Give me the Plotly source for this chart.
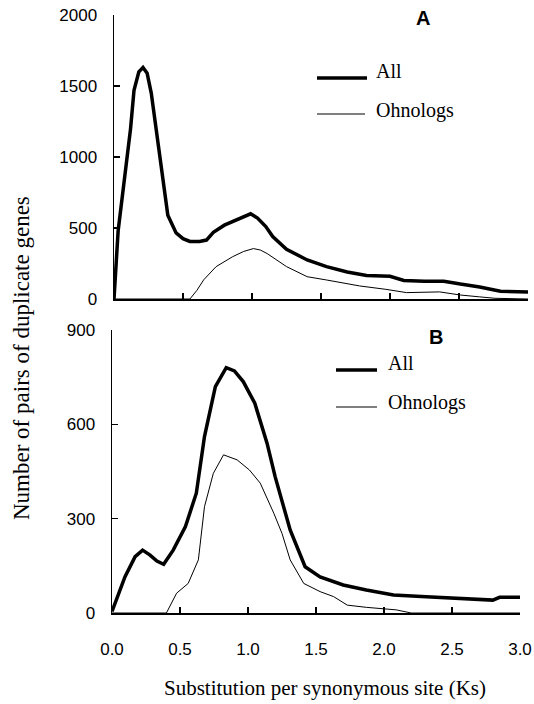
import plotly.graph_objects as go

# ---------------- data ----------------
ks_a_all = [0.00, 0.01, 0.03, 0.06, 0.09, 0.12, 0.145, 0.18, 0.21, 0.24, 0.27, 0.31, 0.35,
            0.39, 0.45, 0.50, 0.55, 0.62, 0.67, 0.72, 0.80, 0.88, 0.95, 0.99, 1.04, 1.10,
            1.15, 1.25, 1.40, 1.54, 1.69, 1.83, 2.00, 2.10, 2.25, 2.39, 2.51, 2.65, 2.80, 3.00]
a_all = [0, 150, 480, 720, 940, 1200, 1470, 1600, 1630, 1590, 1450, 1170, 850,
         590, 465, 425, 405, 405, 415, 470, 520, 555, 585, 600, 570, 510,
         440, 350, 275, 228, 190, 165, 160, 130, 125, 125, 105, 85, 55, 50]

ks_a_ohno = [0.00, 0.55, 0.60, 0.65, 0.74, 0.86, 0.94, 1.01, 1.06, 1.11, 1.25, 1.40, 1.54,
             1.78, 1.97, 2.12, 2.36, 2.51, 2.65, 2.76, 3.00]
a_ohno = [0, 0, 60, 135, 228, 298, 335, 355, 345, 320, 228, 157, 134,
          92, 68, 45, 50, 28, 15, 5, 0]

ks_b_all = [0.00, 0.05, 0.095, 0.17, 0.225, 0.28, 0.33, 0.38, 0.45, 0.54, 0.62, 0.68, 0.76,
            0.84, 0.90, 0.965, 1.05, 1.14, 1.20, 1.31, 1.42, 1.53, 1.70, 1.87, 2.07, 2.31,
            2.56, 2.80, 2.85, 3.00]
b_all = [5, 60, 115, 179, 200, 184, 165, 155, 200, 275, 381, 561, 720,
         780, 770, 736, 667, 540, 433, 264, 147, 115, 89, 73, 57, 52,
         47, 41, 50, 50]

ks_b_ohno = [0.00, 0.40, 0.475, 0.56, 0.635, 0.68, 0.745, 0.82, 0.92, 1.01, 1.09, 1.19, 1.25,
             1.31, 1.41, 1.53, 1.63, 1.73, 1.87, 2.09, 2.20, 3.00]
b_ohno = [0, 0, 63, 94, 169, 338, 444, 503, 487, 455, 413, 317, 253,
          169, 94, 68, 52, 25, 18, 10, 0, 0]

x_ticks = [0, 0.5, 1.0, 1.5, 2.0, 2.5, 3.0]
x_ticktext = ["0.0", "0.5", "1.0", "1.5", "2.0", "2.5", "3.0"]
a_yticks = [0, 500, 1000, 1500, 2000]
b_yticks = [0, 300, 600, 900]
series_names = ["All", "Ohnologs"]
panel_labels = ["A", "B"]
x_title = "Substitution per synonymous site (Ks)"
y_title = "Number of pairs of duplicate genes"

# ---------------- layout helpers (window pixels) ----------------
W, H = 534, 704
def px(x):
    return x / W
def py(y):
    return 1 - y / H

SANS = "Liberation Sans"
SERIF = "Liberation Serif"

fig = go.Figure()
thick = dict(color="black", width=3.5)
thin = dict(color="black", width=1)

fig.add_trace(go.Scatter(x=ks_a_all, y=a_all, mode="lines", line=thick, xaxis="x", yaxis="y",
                         name=series_names[0], showlegend=False))
fig.add_trace(go.Scatter(x=ks_a_ohno, y=a_ohno, mode="lines", line=thin, xaxis="x", yaxis="y",
                         name=series_names[1], showlegend=False))
fig.add_trace(go.Scatter(x=ks_b_all, y=b_all, mode="lines", line=thick, xaxis="x2", yaxis="y2",
                         name=series_names[0], showlegend=False))
fig.add_trace(go.Scatter(x=ks_b_ohno, y=b_ohno, mode="lines", line=thin, xaxis="x2", yaxis="y2",
                         name=series_names[1], showlegend=False))

axis_common = dict(showline=True, linecolor="black", linewidth=1.5, showgrid=False,
                   zeroline=False, ticks="inside", ticklen=6, tickwidth=1.5, tickcolor="black",
                   automargin=False, ticklabeloverflow="allow",
                   tickfont=dict(family=SANS, size=17, color="black"))

fig.update_layout(
    width=W, height=H,
    autosize=False,
    margin=dict(l=0, r=0, t=0, b=0, pad=0, autoexpand=False),
    paper_bgcolor="white", plot_bgcolor="white",
    font=dict(family=SANS, color="black"),
    hovermode=False,
    xaxis=dict(domain=[px(114), px(528)], anchor="y", range=[0, 3], tickvals=x_ticks,
               showticklabels=False, **axis_common),
    yaxis=dict(domain=[py(299), py(15)], anchor="x", range=[0, 2000], tickvals=a_yticks,
               ticklabelstandoff=12, **axis_common),
    xaxis2=dict(domain=[px(112), px(520)], anchor="y2", range=[0, 3], tickvals=x_ticks,
                ticktext=x_ticktext, ticklabelstandoff=20, **axis_common),
    yaxis2=dict(domain=[py(613), py(330)], anchor="x2", range=[0, 900], tickvals=b_yticks,
                ticklabelstandoff=12, **axis_common),
)

annotations = []
shapes = []

# axis titles
annotations.append(dict(text=x_title, x=px(325), y=py(688), xref="paper", yref="paper",
                        showarrow=False, xanchor="center", yanchor="middle",
                        font=dict(family=SERIF, size=21, color="black")))
annotations.append(dict(text=y_title, x=px(21), y=py(358), xref="paper", yref="paper",
                        showarrow=False, xanchor="center", yanchor="middle", textangle=-90,
                        font=dict(family=SERIF, size=23, color="black")))

# panel labels
annotations.append(dict(text="<b>%s</b>" % panel_labels[0], x=px(423), y=py(18), xref="paper",
                        yref="paper", showarrow=False, xanchor="center", yanchor="middle",
                        font=dict(family=SANS, size=20, color="black")))
annotations.append(dict(text="<b>%s</b>" % panel_labels[1], x=px(436), y=py(337), xref="paper",
                        yref="paper", showarrow=False, xanchor="center", yanchor="middle",
                        font=dict(family=SANS, size=20, color="black")))

# legends (line samples + labels)
legend_specs = [
    # (x0, x1, line_y, text_x, text_y, name, width)
    (317, 367, 78, 374, 71, series_names[0], 3.5),
    (317, 365, 114, 374, 110, series_names[1], 1.2),
    (336, 377, 370, 386, 363, series_names[0], 3.5),
    (336, 377, 407, 386, 403, series_names[1], 1.2),
]
for x0, x1, ly, tx, ty, name, w in legend_specs:
    shapes.append(dict(type="line", xref="paper", yref="paper", x0=px(x0), x1=px(x1),
                       y0=py(ly), y1=py(ly), line=dict(color="black", width=w)))
    annotations.append(dict(text=name, x=px(tx), y=py(ty), xref="paper", yref="paper",
                            showarrow=False, xanchor="left", yanchor="middle",
                            font=dict(family=SERIF, size=20, color="black")))

fig.update_layout(annotations=annotations, shapes=shapes)

# remove the default page margin so the figure sits at the window's top-left corner
fig.write_html("out.html",
               config={"displayModeBar": False, "staticPlot": True},
               post_script="document.body.style.margin='0';document.body.style.overflow='hidden';")
